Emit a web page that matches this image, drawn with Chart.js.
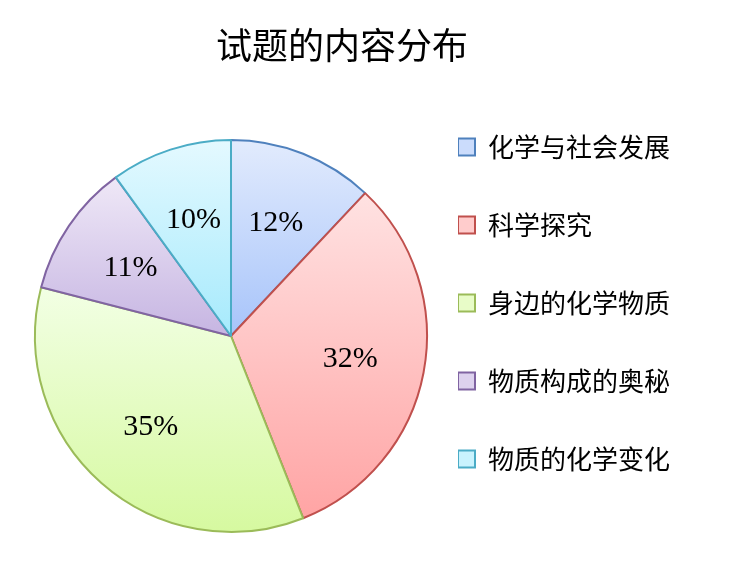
<!DOCTYPE html>
<html>
<head>
<meta charset="utf-8">
<script src="https://cdn.jsdelivr.net/npm/chart.js@4.4.1/dist/chart.umd.min.js"></script>
<style>
html, body { margin: 0; padding: 0; background: #fff; }
#wrap { width: 741px; height: 580px; }
</style>
</head>
<body>
<div id="wrap"><canvas id="myChart"></canvas></div>
<script>
// data
const categories = ['化学与社会发展', '科学探究', '身边的化学物质', '物质构成的奥秘', '物质的化学变化'];
const percents = [12, 32, 35, 11, 10];

// styles
const topColors = ['#e2ebfd', '#ffe2e2', '#f2ffe4', '#efe8f7', '#e4f9ff'];
const bottomColors = ['#a7c4fa', '#ffa4a4', '#d6f9a0', '#c6b5e2', '#a6eafc'];
const legendColors = ['#cbdcfc', '#ffcccc', '#e8fcc8', '#ddd2ee', '#c9f3fe'];
const borderColors = ['#4f81bd', '#c0504d', '#9bbb59', '#8064a2', '#4bacc6'];

const cjkFont = '"Noto Sans CJK SC", "Noto Sans", sans-serif';

function coversAngle(a, s, e) {
    for (let k = -2; k <= 2; k++) {
        const t = a + k * 2 * Math.PI;
        if (t >= s && t <= e) return true;
    }
    return false;
}

// each slice gets its own top-to-bottom gradient, sized to the slice
const sliceGradient = {
    id: 'sliceGradient',
    afterDatasetsUpdate(chart) {
        const ctx = chart.ctx;
        chart.getDatasetMeta(0).data.forEach((arc, i) => {
            const p = arc.getProps(['x', 'y', 'startAngle', 'endAngle', 'outerRadius'], true);
            const ys = [p.y, p.y + p.outerRadius * Math.sin(p.startAngle), p.y + p.outerRadius * Math.sin(p.endAngle)];
            let minY = Math.min(...ys), maxY = Math.max(...ys);
            if (coversAngle(-Math.PI / 2, p.startAngle, p.endAngle)) minY = p.y - p.outerRadius;
            if (coversAngle(Math.PI / 2, p.startAngle, p.endAngle)) maxY = p.y + p.outerRadius;
            const g = ctx.createLinearGradient(0, minY, 0, maxY);
            g.addColorStop(0, topColors[i]);
            g.addColorStop(1, bottomColors[i]);
            arc.options.backgroundColor = g;
        });
    }
};

const percentLabels = {
    id: 'percentLabels',
    afterDatasetsDraw(chart) {
        const ctx = chart.ctx;
        ctx.save();
        ctx.font = '30px "Liberation Serif", "Times New Roman", serif';
        ctx.fillStyle = '#000';
        ctx.textAlign = 'center';
        ctx.textBaseline = 'middle';
        chart.getDatasetMeta(0).data.forEach((arc, i) => {
            const p = arc.getProps(['x', 'y', 'startAngle', 'endAngle', 'outerRadius'], true);
            const mid = (p.startAngle + p.endAngle) / 2;
            const r = p.outerRadius * 0.62;
            ctx.fillText(percents[i] + '%', p.x + Math.cos(mid) * r, p.y + Math.sin(mid) * r);
        });
        ctx.restore();
    }
};

const data = {
    labels: categories,
    datasets: [{
        data: percents,
        backgroundColor: legendColors,
        borderColor: borderColors,
        borderWidth: 2,
        radius: 196,
        clip: false
    }]
};

const config = {
    type: 'pie',
    data: data,
    options: {
        responsive: true,
        maintainAspectRatio: false,
        animation: false,
        events: [],
        layout: {
            padding: { left: 4, right: 61, top: 0, bottom: 0 }
        },
        plugins: {
            title: {
                display: true,
                text: '试题的内容分布',
                color: '#000',
                font: { family: cjkFont, size: 36, weight: 'normal' },
                padding: { top: 23.4, bottom: 25.4 }
            },
            legend: {
                position: 'right',
                align: 'start',
                fullSize: false,
                // empty title only spaces the items down
                title: {
                    display: true,
                    text: '',
                    font: { size: 12, lineHeight: 1 },
                    padding: { top: 30, bottom: 0 }
                },
                labels: {
                    color: '#000',
                    font: { family: cjkFont, size: 26, lineHeight: 3 },
                    boxWidth: 17,
                    boxHeight: 17,
                    padding: 0,
                    generateLabels(chart) {
                        const base = Chart.overrides.doughnut.plugins.legend.labels.generateLabels(chart);
                        return base.map(item => Object.assign(item, { text: [item.text] }));
                    }
                }
            },
            tooltip: { enabled: false }
        }
    },
    plugins: [sliceGradient, percentLabels]
};

const myChart = new Chart(
    document.getElementById('myChart'),
    config
);
</script>
</body>
</html>
